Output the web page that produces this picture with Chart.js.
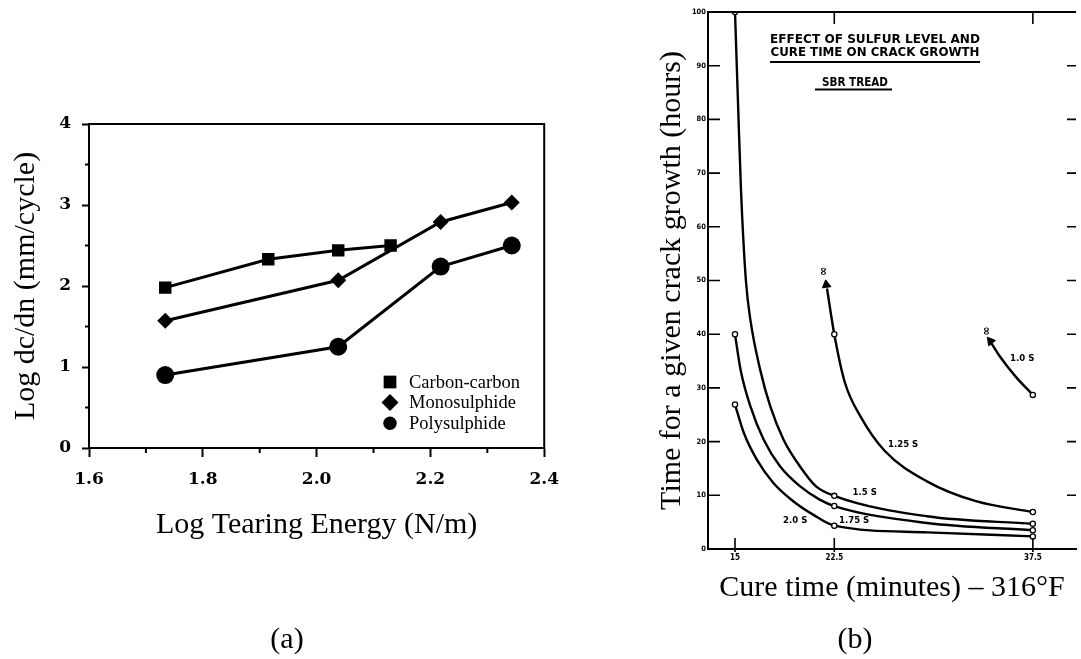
<!DOCTYPE html>
<html>
<head>
<meta charset="utf-8">
<script src="https://cdn.jsdelivr.net/npm/chart.js@4.4.0/dist/chart.umd.min.js"></script>
<style>
  html, body { margin: 0; padding: 0; background: #fff; width: 1081px; height: 659px; overflow: hidden; }
  #boxA { position: absolute; left: 0; top: 0; width: 571px; height: 659px; }
  #boxB { position: absolute; left: 640px; top: 0; width: 442px; height: 659px; }
  .cap { position: absolute; top: 638px; transform: translate(-50%, -50%); font: 30px 'Liberation Serif', serif; line-height: 1; color: #000; }
</style>
</head>
<body>
<div id="boxA"><canvas id="chartA" width="571" height="659"></canvas></div>
<div id="boxB"><canvas id="chartB" width="442" height="659"></canvas></div>
<div class="cap" style="left:287px">(a)</div>
<div class="cap" style="left:855px">(b)</div>
<script>
// ---- panel (a): crack growth rate vs tearing energy ----
const seriesA = ['Carbon-carbon', 'Monosulphide', 'Polysulphide'];
const tearCarbon = [1.734, 1.915, 2.038, 2.13];
const rateCarbon = [1.98, 2.33, 2.44, 2.50];
const tearMono = [1.734, 2.038, 2.218, 2.343];
const rateMono = [1.57, 2.07, 2.79, 3.03];
const tearPoly = [1.734, 2.038, 2.218, 2.343];
const ratePoly = [0.90, 1.25, 2.24, 2.50];
const xTicksA = [1.6, 1.8, 2.0, 2.2, 2.4];
const xMinorA = [1.7, 1.9, 2.1, 2.3];
const yTicksA = [0, 1, 2, 3, 4];
const yMinorA = [0.5, 1.5, 2.5, 3.5];

// ---- panel (b): time for crack growth vs cure time ----
const cureTimes = [15, 22.5, 37.5];
const curveNames = ['1.0 S', '1.25 S', '1.5 S', '1.75 S', '2.0 S'];
const hours10 = [null, null, 28.7];
const hours125 = [null, 40, 6.9];
const hours15 = [100, 9.9, 4.7];
const hours175 = [40, 8.0, 3.5];
const hours20 = [26.9, 4.34, 2.35];
// curve shapes
const trace10 = [[34.35, 38.4], [35.0, 35.9], [36.2, 32.1], [37.5, 28.7]];
const trace125 = [[21.95, 48.5], [22.5, 40], [23.3, 31.0], [24.5, 24.6], [26.3, 18.3], [29.5, 12.6], [33.2, 8.9], [37.5, 6.9]];
const trace15 = [[15, 100], [15.22, 83.6], [15.45, 67], [15.82, 50.1], [16.16, 42.7], [16.9, 33.4], [17.66, 26.6], [18.66, 20.4], [19.9, 15.4], [21.1, 11.7], [22.5, 9.9], [29.5, 6.1], [37.5, 4.7]];
const trace175 = [[15, 40], [15.42, 33.4], [16.16, 26.6], [17.16, 20.4], [18.4, 15.4], [19.9, 11.7], [21.4, 9.2], [22.5, 8.0], [29.5, 4.84], [37.5, 3.5]];
const trace20 = [[15, 26.9], [15.67, 21.6], [16.66, 16.6], [17.9, 12.3], [19.4, 8.9], [20.9, 6.4], [22.5, 4.34], [29.5, 3.1], [37.5, 2.35]];
const arrowTips = [[21.9, 49.2], [34.3, 38.7]];
const infinityAt = [[21.7, 51.7], [34.0, 40.6]];
const labelAt = [[36.7, 35.4], [27.7, 19.4], [24.8, 10.5], [24.0, 5.3], [19.55, 5.3]];

const pts = (xs, ys) => xs.map((x, i) => ({ x: x, y: ys[i] })).filter(p => p.y !== null);
const pairs = arr => arr.map(p => ({ x: p[0], y: p[1] }));

const serif = "'Liberation Serif', 'Times New Roman', serif";
const boldSerif = "'DejaVu Serif', serif";
const cond = "'DejaVu Sans Condensed', 'Liberation Sans Narrow', 'DejaVu Sans', sans-serif";

const plotA = {
  id: 'plotA',
  afterDraw(chart) {
    const { ctx, chartArea: a, scales: { x, y } } = chart;
    ctx.save();
    ctx.strokeStyle = '#000';
    ctx.lineWidth = 2;
    ctx.strokeRect(a.left, a.top, a.right - a.left, a.bottom - a.top);
    ctx.beginPath();
    xMinorA.forEach(v => { const px = x.getPixelForValue(v); ctx.moveTo(px, a.bottom); ctx.lineTo(px, a.bottom + 5); });
    yMinorA.forEach(v => { const py = y.getPixelForValue(v); ctx.moveTo(a.left, py); ctx.lineTo(a.left - 4, py); });
    ctx.stroke();

    // legend inside the plot
    const radii = [9, 8.5, 6.7];
    ctx.fillStyle = '#000';
    ctx.font = '18.5px ' + serif;
    ctx.textBaseline = 'middle';
    chart.data.datasets.forEach((ds, i) => {
      const ly = 382 + i * 20.6;
      Chart.helpers.drawPoint(ctx, { pointStyle: ds.pointStyle, radius: radii[i], rotation: 0, borderWidth: 0 }, 390, ly);
      ctx.fillText(ds.label, 409, ly + 1);
    });
    ctx.restore();
  }
};

new Chart(document.getElementById('chartA'), {
  type: 'line',
  data: {
    datasets: [
      { label: seriesA[0], data: pts(tearCarbon, rateCarbon), pointStyle: 'rect', pointRadius: 8.8 },
      { label: seriesA[1], data: pts(tearMono, rateMono), pointStyle: 'rectRot', pointRadius: 8 },
      { label: seriesA[2], data: pts(tearPoly, ratePoly), pointStyle: 'circle', pointRadius: 9 }
    ].map(d => Object.assign(d, {
      borderColor: '#000', backgroundColor: '#000', borderWidth: 3,
      pointBackgroundColor: '#000', pointBorderColor: '#000', pointBorderWidth: 0, tension: 0
    }))
  },
  options: {
    responsive: false,
    animation: false,
    layout: { padding: { left: 0, top: 124, right: 16, bottom: 116 } },
    plugins: { legend: { display: false }, tooltip: { enabled: false } },
    scales: {
      x: {
        type: 'linear', min: 1.6, max: 2.4,
        afterBuildTicks: s => { s.ticks = xTicksA.map(v => ({ value: v })); },
        afterFit: s => { s.height = 95; },
        border: { display: true, color: '#000', width: 2 },
        grid: { drawOnChartArea: false, drawTicks: true, tickLength: 9, tickWidth: 2, tickColor: '#000' },
        ticks: { padding: 12, color: '#000', font: { family: boldSerif, weight: 'bold', size: 17 }, maxRotation: 0, callback: v => v.toFixed(1) },
        title: { display: true, text: 'Log Tearing Energy (N/m)', color: '#000', font: { family: serif, size: 30 }, padding: 0 }
      },
      y: {
        type: 'linear', min: 0, max: 4,
        afterBuildTicks: s => { s.ticks = yTicksA.map(v => ({ value: v })); },
        afterFit: s => { s.width = 89; },
        border: { display: true, color: '#000', width: 2 },
        grid: { drawOnChartArea: false, drawTicks: true, tickLength: 7, tickWidth: 2, tickColor: '#000' },
        ticks: { padding: 11, color: '#000', font: { family: boldSerif, weight: 'bold', size: 17 } },
        title: { display: true, text: 'Log dc/dn (mm/cycle)', color: '#000', font: { family: serif, size: 30 }, padding: { top: 8, bottom: 0 } }
      }
    }
  },
  plugins: [plotA]
});

// ---- panel (b) ----
function fitText(ctx, text, cx, cy, width) {
  const w = ctx.measureText(text).width;
  ctx.save();
  ctx.translate(cx, cy);
  ctx.scale(width / w, 1);
  ctx.fillText(text, 0, 0);
  ctx.restore();
}

const plotB = {
  id: 'plotB',
  afterDraw(chart) {
    const { ctx, chartArea: a, scales: { x, y } } = chart;
    ctx.save();
    ctx.strokeStyle = '#000';
    ctx.lineWidth = 2;
    ctx.beginPath();
    ctx.moveTo(a.left, a.top); ctx.lineTo(a.right, a.top);
    ctx.stroke();

    ctx.lineWidth = 1.6;
    ctx.beginPath();
    y.ticks.forEach(t => {
      if (t.value <= 0 || t.value >= 100) return;
      const py = y.getPixelForValue(t.value);
      ctx.moveTo(a.left, py); ctx.lineTo(a.left + 12, py);
      ctx.moveTo(a.right, py); ctx.lineTo(a.right - 9, py);
    });
    cureTimes.forEach((v, i) => {
      const px = x.getPixelForValue(v);
      ctx.moveTo(px, a.bottom + 3); ctx.lineTo(px, a.bottom - 11);
      if (i > 0) { ctx.moveTo(px, a.top); ctx.lineTo(px, a.top + 12); }
    });
    ctx.stroke();

    // heading block
    ctx.fillStyle = '#000';
    ctx.textAlign = 'center';
    ctx.textBaseline = 'middle';
    ctx.font = 'bold 12.5px ' + cond;
    fitText(ctx, 'EFFECT OF SULFUR LEVEL AND', 235, 40, 210);
    fitText(ctx, 'CURE TIME ON CRACK GROWTH', 235, 53, 209);
    fitText(ctx, 'SBR TREAD', 215, 83, 66);
    ctx.lineWidth = 2;
    ctx.beginPath();
    ctx.moveTo(130, 62); ctx.lineTo(340, 62);
    ctx.moveTo(175, 89.5); ctx.lineTo(252, 89.5);
    ctx.stroke();

    // curve names
    ctx.font = 'bold 9.5px ' + cond;
    curveNames.forEach((n, i) => {
      ctx.fillText(n, x.getPixelForValue(labelAt[i][0]), y.getPixelForValue(labelAt[i][1]));
    });

    // infinity marks at the arrow tips
    ctx.font = 'bold 12px ' + cond;
    infinityAt.forEach(p => {
      ctx.save();
      ctx.translate(x.getPixelForValue(p[0]), y.getPixelForValue(p[1]));
      ctx.rotate(-Math.PI / 2);
      ctx.fillText('\u221E', 0, 0);
      ctx.restore();
    });
    ctx.restore();
  }
};

const curveStyle = { borderColor: '#000', borderWidth: 2.4, pointRadius: 0, cubicInterpolationMode: 'monotone', fill: false };
const markStyle = { showLine: false, pointStyle: 'circle', pointRadius: 2.6, pointBorderWidth: 1.3, pointBorderColor: '#000', pointBackgroundColor: '#fff' };

new Chart(document.getElementById('chartB'), {
  type: 'line',
  data: {
    datasets: [
      Object.assign({ label: 'marks 1.0 S', data: pts(cureTimes, hours10) }, markStyle),
      Object.assign({ label: 'marks 1.25 S', data: pts(cureTimes, hours125) }, markStyle),
      Object.assign({ label: 'marks 1.5 S', data: pts(cureTimes, hours15) }, markStyle),
      Object.assign({ label: 'marks 1.75 S', data: pts(cureTimes, hours175) }, markStyle),
      Object.assign({ label: 'marks 2.0 S', data: pts(cureTimes, hours20) }, markStyle),
      { label: 'arrows', data: pairs(arrowTips), showLine: false, pointStyle: 'triangle', pointRadius: 5,
        pointRotation: [-8, -38], pointBackgroundColor: '#000', pointBorderColor: '#000', pointBorderWidth: 1 },
      Object.assign({ label: curveNames[0], data: pairs(trace10) }, curveStyle),
      Object.assign({ label: curveNames[1], data: pairs(trace125) }, curveStyle),
      Object.assign({ label: curveNames[2], data: pairs(trace15) }, curveStyle),
      Object.assign({ label: curveNames[3], data: pairs(trace175) }, curveStyle),
      Object.assign({ label: curveNames[4], data: pairs(trace20) }, curveStyle)
    ]
  },
  options: {
    responsive: false,
    animation: false,
    layout: { padding: { left: 0, top: 12, right: 0, bottom: 53 } },
    plugins: { legend: { display: false }, tooltip: { enabled: false } },
    scales: {
      x: {
        type: 'linear', min: 12.96, max: 40.76,
        afterBuildTicks: s => { s.ticks = cureTimes.map(v => ({ value: v })); },
        afterFit: s => { s.height = 57; },
        border: { display: true, color: '#000', width: 2 },
        grid: { drawOnChartArea: false, drawTicks: false },
        ticks: { padding: 4, color: '#000', font: { family: cond, weight: 'bold', size: 8 }, maxRotation: 0, callback: v => String(v) },
        title: { display: true, text: 'Cure time (minutes) \u2013 316\u00B0F', color: '#000', font: { family: serif, size: 30 }, padding: 0 }
      },
      y: {
        type: 'linear', min: 0, max: 100,
        afterFit: s => { s.width = 68; },
        border: { display: true, color: '#000', width: 2 },
        grid: { drawOnChartArea: false, drawTicks: false },
        ticks: { stepSize: 10, padding: 2, color: '#000', font: { family: cond, weight: 'bold', size: 7.5 } },
        title: { display: true, text: 'Time for a given crack growth (hours)', color: '#000', font: { family: serif, size: 30 }, padding: { top: 14, bottom: 0 } }
      }
    }
  },
  plugins: [plotB]
});
</script>
</body>
</html>
